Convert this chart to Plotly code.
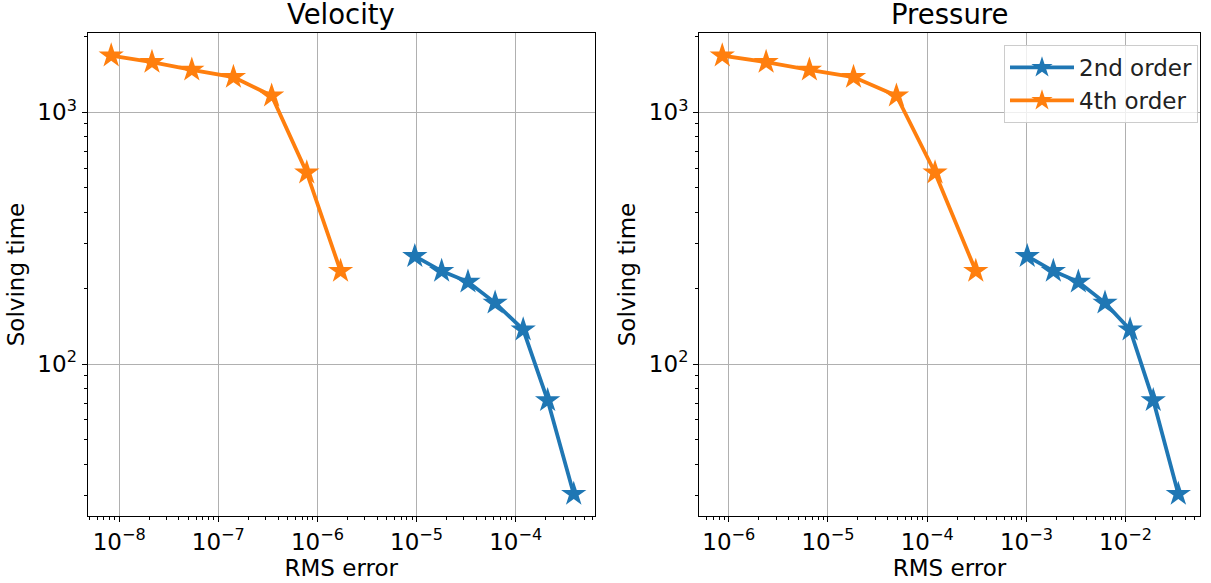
import plotly.graph_objects as go

# ---- data ----
solve_time_4th = [1675, 1580, 1472, 1377, 1162, 575, 234]
solve_time_2nd = [268, 234, 212, 175, 137, 71.8, 30.5]

vel_err_4th = [8.3e-9, 2.14e-8, 5.4e-8, 1.42e-7, 3.45e-7, 7.8e-7, 1.71e-6]
vel_err_2nd = [9.6e-6, 1.79e-5, 3.3e-5, 6.2e-5, 1.19e-4, 2.1e-4, 3.85e-4]

pres_err_4th = [8.6e-7, 2.38e-6, 6.5e-6, 1.81e-5, 4.9e-5, 1.2e-4, 3.09e-4]
pres_err_2nd = [1.02e-3, 1.87e-3, 3.34e-3, 6.2e-3, 1.11e-2, 1.9e-2, 3.4e-2]

series_names = ["2nd order", "4th order"]
panel_titles = ["Velocity", "Pressure"]
x_title = "RMS error"
y_title = "Solving time"

vel_x_exps = [-8, -7, -6, -5, -4]
pres_x_exps = [-6, -5, -4, -3, -2]
y_exps = [2, 3]

BLUE = "#1f77b4"
ORANGE = "#ff7f0e"
FONT = "DejaVu Sans, Liberation Sans, sans-serif"
FS = 23
W, H = 1211, 583


def sup_label(e):
    s = str(e).replace("-", "\u2212")
    return f"10<sup>{s}</sup>"


def minor_vals(lo, hi):
    return [m * 10.0 ** k for k in range(lo, hi + 1) for m in range(2, 10)]


fig = go.Figure()

panels = [
    (vel_err_2nd, vel_err_4th, "x", "y", True),
    (pres_err_2nd, pres_err_4th, "x2", "y2", False),
]
for e2, e4, xa, ya, first in panels:
    for xs, ys, name, col in [
        (e2, solve_time_2nd, series_names[0], BLUE),
        (e4, solve_time_4th, series_names[1], ORANGE),
    ]:
        fig.add_trace(go.Scatter(
            x=xs, y=ys, mode="lines+markers", name=name,
            xaxis=xa, yaxis=ya, showlegend=not first,
            line=dict(color=col, width=3.8),
            marker=dict(symbol="star", size=19, color=col,
                        line=dict(width=0)),
        ))

axis_common = dict(
    type="log", showline=True, linecolor="black", linewidth=1, mirror=True,
    ticks="outside", ticklen=5, tickwidth=1, tickcolor="black",
    showgrid=True, gridcolor="#b0b0b0", gridwidth=1, zeroline=False,
    tickfont=dict(family=FONT, size=FS, color="black"),
    automargin=False,
)


def px_x(p):
    return p / W


def px_y(p):
    return (H - p) / H


x_dom = [[px_x(87.5), px_x(595)], [px_x(699), px_x(1200)]]
y_dom = [px_y(516), px_y(33)]
y_range = [1.397, 3.314]


def minor_cfg(lo, hi):
    return dict(tickmode="array", tickvals=minor_vals(lo, hi),
                ticks="outside", ticklen=3, tickcolor="black", showgrid=False)


fig.update_layout(
    width=W, height=H,
    margin=dict(l=0, r=0, t=0, b=0),
    paper_bgcolor="white", plot_bgcolor="white",
    font=dict(family=FONT, color="black"),
    xaxis=dict(**axis_common, domain=x_dom[0], anchor="y",
               range=[-8.32, -3.20],
               tickmode="array", tickvals=[10.0 ** e for e in vel_x_exps],
               ticktext=[sup_label(e) for e in vel_x_exps],
               minor=minor_cfg(-9, -3),
               title=dict(text=x_title, font=dict(family=FONT, size=FS), standoff=4)),
    yaxis=dict(**axis_common, domain=y_dom, anchor="x",
               range=y_range,
               tickmode="array", tickvals=[10.0 ** e for e in y_exps],
               ticktext=[sup_label(e) for e in y_exps],
               minor=minor_cfg(1, 3),
               title=dict(text=y_title, font=dict(family=FONT, size=FS), standoff=6)),
    xaxis2=dict(**axis_common, domain=x_dom[1], anchor="y2",
                range=[-6.30, -1.25],
                tickmode="array", tickvals=[10.0 ** e for e in pres_x_exps],
                ticktext=[sup_label(e) for e in pres_x_exps],
                minor=minor_cfg(-7, -1),
                title=dict(text=x_title, font=dict(family=FONT, size=FS), standoff=4)),
    yaxis2=dict(**axis_common, domain=y_dom, anchor="x2",
                range=y_range,
                tickmode="array", tickvals=[10.0 ** e for e in y_exps],
                ticktext=[sup_label(e) for e in y_exps],
                minor=minor_cfg(1, 3),
                title=dict(text=y_title, font=dict(family=FONT, size=FS), standoff=6)),
    legend=dict(
        x=px_x(1198), y=px_y(45), xanchor="right", yanchor="top",
        bgcolor="rgba(255,255,255,0.8)", bordercolor="#cccccc", borderwidth=1,
        font=dict(family=FONT, size=FS, color="#222"),
        tracegroupgap=0, itemwidth=64,
    ),
    annotations=[
        dict(text=panel_titles[0], x=sum(x_dom[0]) / 2, y=y_dom[1],
             xref="paper", yref="paper", xanchor="center", yanchor="bottom",
             yshift=1, showarrow=False, font=dict(family=FONT, size=27.5)),
        dict(text=panel_titles[1], x=sum(x_dom[1]) / 2, y=y_dom[1],
             xref="paper", yref="paper", xanchor="center", yanchor="bottom",
             yshift=1, showarrow=False, font=dict(family=FONT, size=27.5)),
    ],
)

fig.write_html(
    "out.html",
    config={"displayModeBar": False},
    post_script="document.body.style.margin='0';document.body.style.padding='0';",
)
